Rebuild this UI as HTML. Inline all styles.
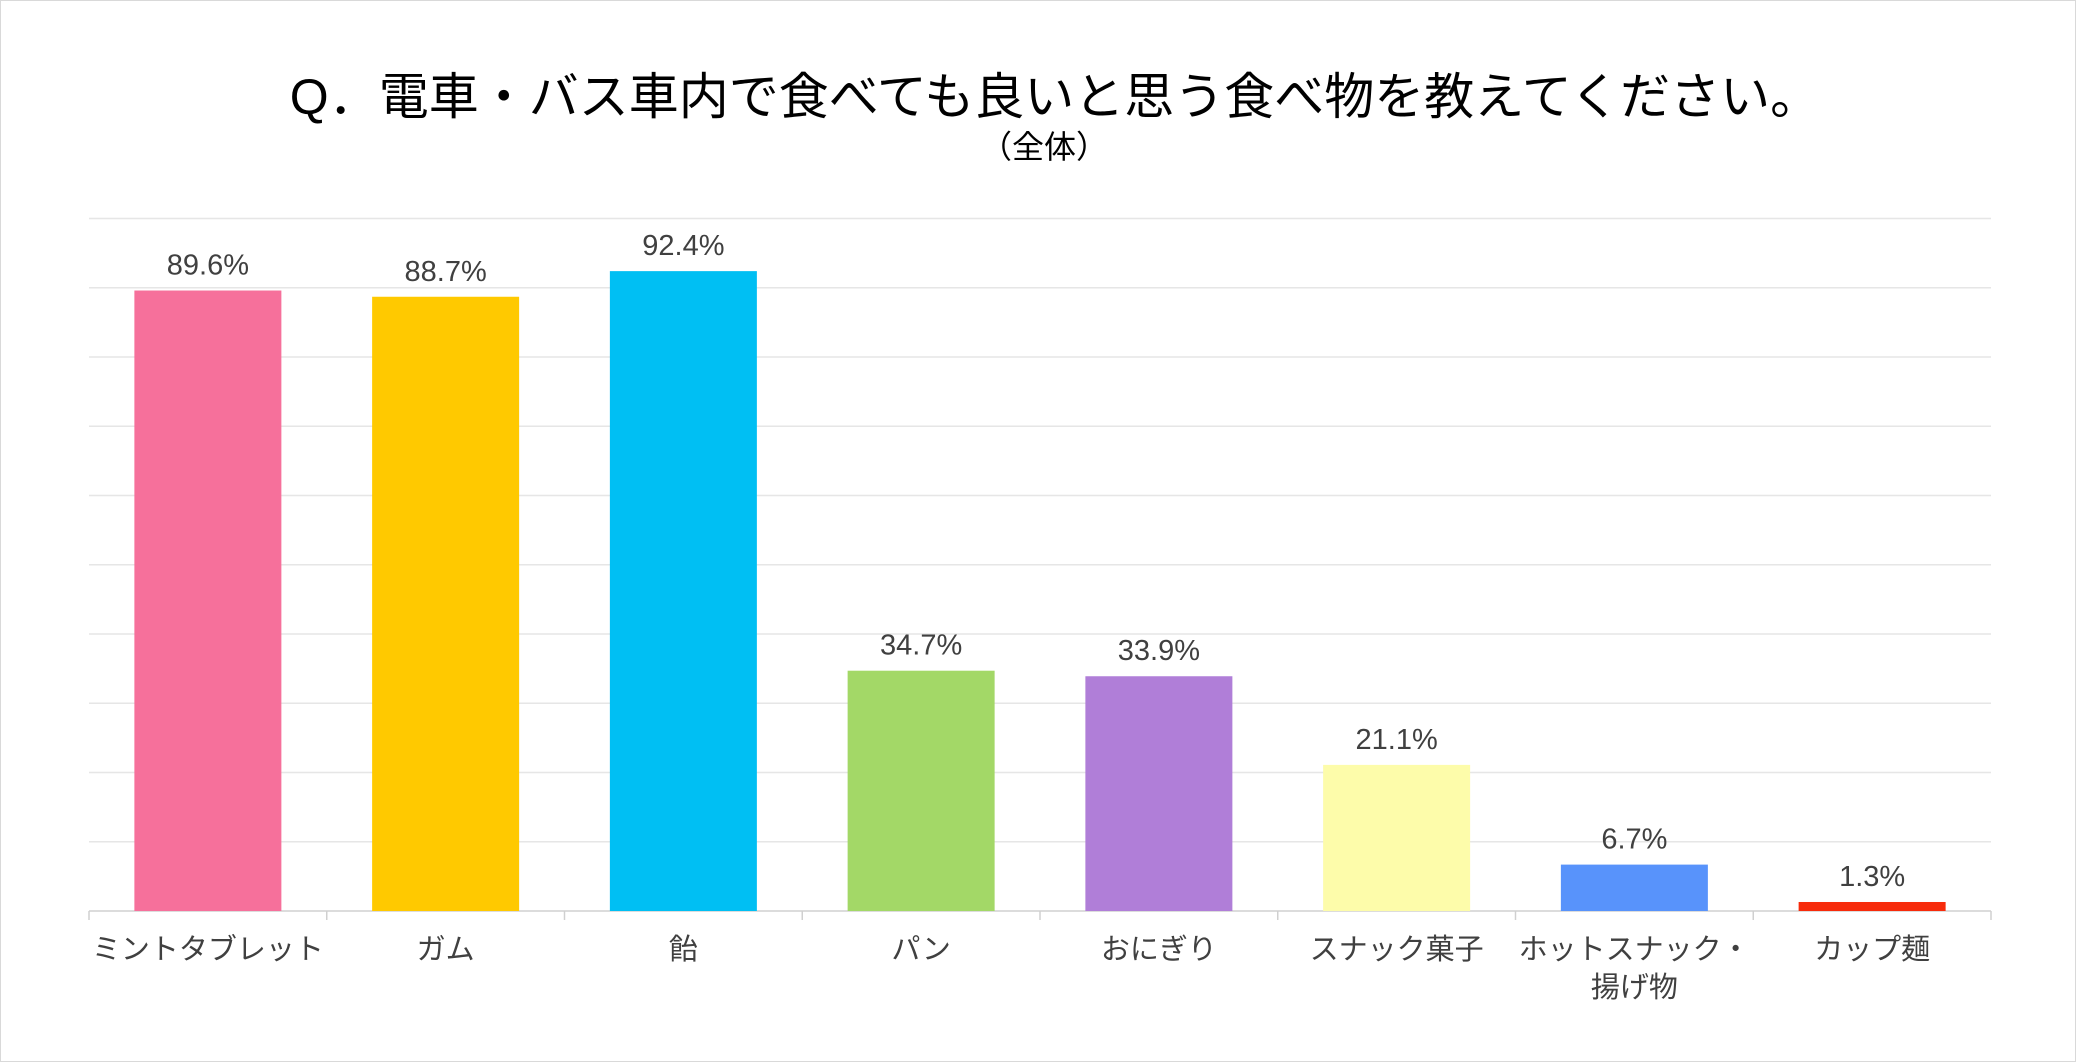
<!DOCTYPE html>
<html><head><meta charset="utf-8"><style>
html,body{margin:0;padding:0;background:#fff;}
svg{display:block;font-family:"Liberation Sans","Noto Sans CJK JP",sans-serif;}
</style></head><body>
<svg id="chart" width="2076" height="1062" viewBox="0 0 2076 1062">
<rect x="0.5" y="0.5" width="2075" height="1061" fill="#fff" stroke="#d9d9d9"/>
<text x="1055" y="114" text-anchor="middle" font-size="50" fill="#000">Q．電車・バス車内で食べても良いと思う食べ物を教えてください。</text>
<text x="1044" y="158" text-anchor="middle" font-size="32" fill="#000">（全体）</text>
<g id="grid"></g><g id="bars"></g><g id="labels"></g>
</svg>
<script>
const categories=["ミントタブレット","ガム","飴","パン","おにぎり","スナック菓子","ホットスナック・\n揚げ物","カップ麺"];
const values=[89.6,88.7,92.4,34.7,33.9,21.1,6.7,1.3];
const valueLabels=["89.6%","88.7%","92.4%","34.7%","33.9%","21.1%","6.7%","1.3%"];
const colors=["#f6709b","#ffc900","#00bff3","#a3d867","#b07ed8","#fdfcaa","#5893fb","#f72b0b"];
const ticks=[0,10,20,30,40,50,60,70,80,90,100];
const NS="http://www.w3.org/2000/svg";
const L=89,R=1991,T=218.5,B=911,YMAX=100;
const y=v=>B-(v/YMAX)*(B-T);
const bw=(R-L)/categories.length;
const x=i=>L+bw*i+bw/2;
function mk(tag,attrs,parent){const e=document.createElementNS(NS,tag);for(const k in attrs)e.setAttribute(k,attrs[k]);parent.appendChild(e);return e;}
const grid=document.getElementById('grid'),bars=document.getElementById('bars'),labels=document.getElementById('labels');
ticks.forEach(t=>{
  const l=mk('line',{x1:L,x2:R,y1:y(t),y2:y(t),stroke:t===0?'#d0d0d0':'#e6e6e6','stroke-width':1.5},grid);
  
  
});
for(let i=0;i<=categories.length;i++){
  const t=mk('line',{x1:L+bw*i,x2:L+bw*i,y1:B,y2:B+9,stroke:'#d0d0d0','stroke-width':1.5},grid);
  
  
}
const barW=147;
values.forEach((v,i)=>{
  const r=mk('rect',{x:x(i)-barW/2,y:y(v),width:barW,height:B-y(v),fill:colors[i]},bars);
  
  
  const t=mk('text',{x:x(i),y:y(v)-16,'text-anchor':'middle','font-size':29,fill:'#404040'},labels);
  t.textContent=valueLabels[i];
  
  
  const lines=categories[i].split('\n');
  lines.forEach((ln,j)=>{
    const c=mk('text',{x:x(i),y:959+j*38,'text-anchor':'middle','font-size':29,fill:'#404040'},labels);
    c.textContent=ln;
    
    
  });
});
</script>
</body></html>
